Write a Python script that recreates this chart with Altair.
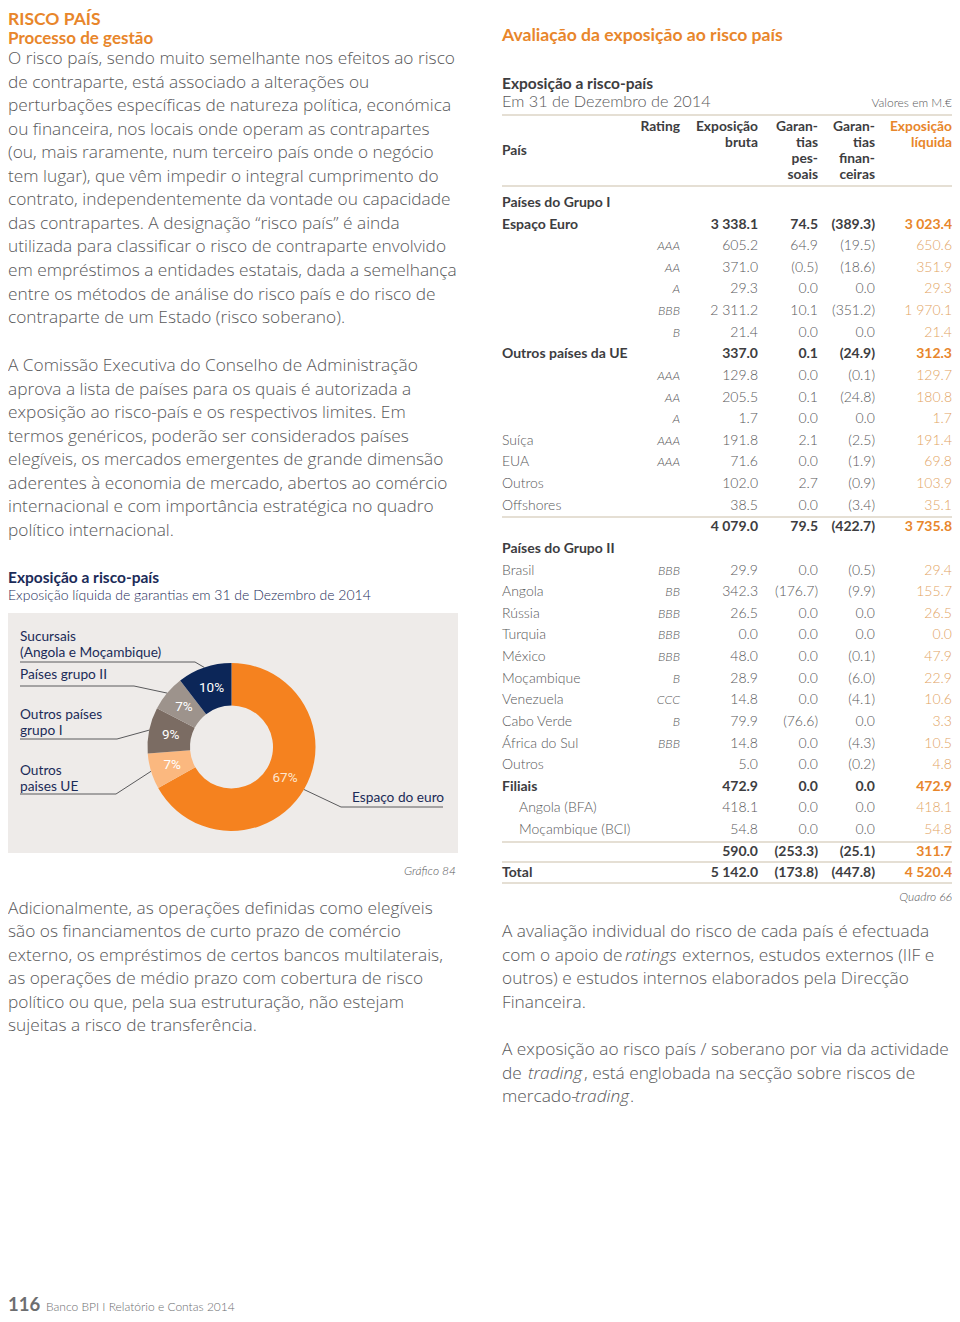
import math
import altair as alt
import pandas as pd

# ------------------------------------------------------------------ data
heading = "RISCO PAÍS"
subheading = "Processo de gestão"
para1 = [
    "O risco país, sendo muito semelhante nos efeitos ao risco",
    "de contraparte, está associado a alterações ou",
    "perturbações específicas de natureza política, económica",
    "ou financeira, nos locais onde operam as contrapartes",
    "(ou, mais raramente, num terceiro país onde o negócio",
    "tem lugar), que vêm impedir o integral cumprimento do",
    "contrato, independentemente da vontade ou capacidade",
    "das contrapartes. A designação “risco país” é ainda",
    "utilizada para classificar o risco de contraparte envolvido",
    "em empréstimos a entidades estatais, dada a semelhança",
    "entre os métodos de análise do risco país e do risco de",
    "contraparte de um Estado (risco soberano).",
]
para2 = [
    "A Comissão Executiva do Conselho de Administração",
    "aprova a lista de países para os quais é autorizada a",
    "exposição ao risco-país e os respectivos limites. Em",
    "termos genéricos, poderão ser considerados países",
    "elegíveis, os mercados emergentes de grande dimensão",
    "aderentes à economia de mercado, abertos ao comércio",
    "internacional e com importância estratégica no quadro",
    "político internacional.",
]
para3 = [
    "Adicionalmente, as operações definidas como elegíveis",
    "são os financiamentos de curto prazo de comércio",
    "externo, os empréstimos de certos bancos multilaterais,",
    "as operações de médio prazo com cobertura de risco",
    "político ou que, pela sua estruturação, não estejam",
    "sujeitas a risco de transferência.",
]
chart_title = "Exposição a risco-país"
chart_subtitle = "Exposição líquida de garantias em 31 de Dezembro de 2014"
chart_caption = "Gráfico 84"

donut_labels = [["Espaço do euro"], ["Outros", "paises UE"], ["Outros países", "grupo I"],
                ["Países grupo II"], ["Sucursais", "(Angola e Moçambique)"]]
donut_values = [3023.4, 312.3, 400.2, 311.7, 472.9]
donut_colors = ["#f5821f", "#fbb87f", "#7b6c63", "#9d938c", "#0c2658"]

right_title = "Avaliação da exposição ao risco país"
table_title = "Exposição a risco-país"
table_subtitle = "Em 31 de Dezembro de 2014"
table_units = "Valores em M.€"
table_caption = "Quadro 66"

row_labels = ["Países do Grupo I", "Espaço Euro", "", "", "", "", "", "Outros países da UE", "", "", "",
              "Suíça", "EUA", "Outros", "Offshores", "", "Países do Grupo II", "Brasil", "Angola", "Rússia",
              "Turquia", "México", "Moçambique", "Venezuela", "Cabo Verde", "África do Sul", "Outros",
              "Filiais", "Angola (BFA)", "Moçambique (BCI)", "", "Total"]
row_ratings = ["", "", "AAA", "AA", "A", "BBB", "B", "", "AAA", "AA", "A", "AAA", "AAA", "", "", "", "",
               "BBB", "BB", "BBB", "BBB", "BBB", "B", "CCC", "B", "BBB", "", "", "", "", "", ""]
gross = [None, 3338.1, 605.2, 371.0, 29.3, 2311.2, 21.4, 337.0, 129.8, 205.5, 1.7, 191.8, 71.6, 102.0, 38.5,
         4079.0, None, 29.9, 342.3, 26.5, 0.0, 48.0, 28.9, 14.8, 79.9, 14.8, 5.0, 472.9, 418.1, 54.8,
         590.0, 5142.0]
personal = [None, 74.5, 64.9, -0.5, 0.0, 10.1, 0.0, 0.1, 0.0, 0.1, 0.0, 2.1, 0.0, 2.7, 0.0,
            79.5, None, 0.0, -176.7, 0.0, 0.0, 0.0, 0.0, 0.0, -76.6, 0.0, 0.0, 0.0, 0.0, 0.0,
            -253.3, -173.8]
financial = [None, -389.3, -19.5, -18.6, 0.0, -351.2, 0.0, -24.9, -0.1, -24.8, 0.0, -2.5, -1.9, -0.9, -3.4,
             -422.7, None, -0.5, -9.9, 0.0, 0.0, -0.1, -6.0, -4.1, 0.0, -4.3, -0.2, 0.0, 0.0, 0.0,
             -25.1, -447.8]
net = [None, 3023.4, 650.6, 351.9, 29.3, 1970.1, 21.4, 312.3, 129.7, 180.8, 1.7, 191.4, 69.8, 103.9, 35.1,
       3735.8, None, 29.4, 155.7, 26.5, 0.0, 47.9, 22.9, 10.6, 3.3, 10.5, 4.8, 472.9, 418.1, 54.8,
       311.7, 4520.4]

para_r1 = [
    [("A avaliação individual do risco de cada país é efectuada", False)],
    [("com o apoio de", False), ("ratings", True), ("externos, estudos externos (IIF e", False)],
    [("outros) e estudos internos elaborados pela Direcção", False)],
    [("Financeira.", False)],
]
para_r2 = [
    [("A exposição ao risco país / soberano por via da actividade", False)],
    [("de", False), ("trading", True), (", está englobada na secção sobre riscos de", False)],
    [("mercado-", False), ("trading", True), (".", False)],
]
footer_page = "116"
footer_text = "Banco BPI  I  Relatório e Contas 2014"

# ------------------------------------------------------------------ layout / style
OFF = 8
W, H = 944, 1306
SANS = "Lato, 'Open Sans', sans-serif"
BODY = "'Open Sans', 'Noto Sans', sans-serif"
NARROW = "'Liberation Sans Narrow', 'Roboto', sans-serif"
ORANGE = "#e8862b"
ORANGE_L = "#e2a464"
GRAY = "#58585a"
DARK = "#3d3d3f"
NAVY = "#1b2b58"
LINE = "#ddd4c6"
BODY_SIZE = 17.3


def px(v):
    return v - OFF


styles = {
    "h1": dict(fontSize=17.5, fontWeight="bold", color=ORANGE, align="left"),
    "h2": dict(fontSize=17, fontWeight="bold", color=ORANGE, align="left"),
    "h2r": dict(fontSize=17.6, fontWeight="bold", color=ORANGE, align="left"),
    "body": dict(font=BODY, fontSize=BODY_SIZE, fontWeight=300, color=GRAY, align="left"),
    "body_i": dict(font=BODY, fontSize=BODY_SIZE, fontWeight=300, fontStyle="italic", color=GRAY, align="left"),
    "navy_b": dict(fontSize=15.5, fontWeight="bold", color=NAVY, align="left"),
    "navy": dict(fontSize=14, fontWeight=300, color=NAVY, align="left"),
    "legend": dict(fontSize=13.7, fontWeight="normal", color=NAVY, align="left"),
    "caption": dict(fontSize=12, fontStyle="italic", fontWeight=300, color=GRAY, align="right"),
    "t_title": dict(fontSize=15.5, fontWeight="bold", color=DARK, align="left"),
    "t_sub": dict(fontSize=16.3, fontWeight=300, color=GRAY, align="left"),
    "units": dict(fontSize=12, fontWeight=300, color=GRAY, align="right"),
    "hdr_r": dict(fontSize=13.8, fontWeight="bold", color=DARK, align="right"),
    "hdr_l": dict(fontSize=13.8, fontWeight="bold", color=DARK, align="left"),
    "hdr_o": dict(fontSize=13.8, fontWeight="bold", color=ORANGE, align="right"),
    "cell": dict(fontSize=14, fontWeight=300, color=GRAY, align="left"),
    "cell_b": dict(fontSize=14, fontWeight="bold", color=DARK, align="left"),
    "rating": dict(fontSize=12.5, fontStyle="italic", fontWeight=300, color=GRAY, align="right"),
    "num": dict(fontSize=14, fontWeight=300, color=GRAY, align="right"),
    "num_b": dict(fontSize=14, fontWeight="bold", color=DARK, align="right"),
    "net": dict(fontSize=14, fontWeight=300, color=ORANGE_L, align="right"),
    "net_b": dict(fontSize=14, fontWeight="bold", color=ORANGE, align="right"),
    "foot_n": dict(fontSize=18.5, fontWeight="bold", color="#6d6e70", align="left"),
    "foot": dict(fontSize=12, fontWeight=300, color="#6d6e70", align="left"),
}

items = []


def add(x, y, text, style):
    items.append(dict(x=px(x), y=px(y), text=text, style=style))


# left column
add(8, 20, heading, "h1")
add(8, 38.5, subheading, "h2")
LH = 23.55
for i, t in enumerate(para1):
    add(8, 59 + i * LH, t, "body")
for i, t in enumerate(para2):
    add(8, 366 + i * LH, t, "body")
for i, t in enumerate(para3):
    add(8, 908.5 + i * LH, t, "body")
add(8, 578, chart_title, "navy_b")
add(8, 596, chart_subtitle, "navy")
add(456, 871, chart_caption, "caption")
add(8, 1305, footer_page, "foot_n")
add(46, 1307, footer_text, "foot")

# right column
add(502, 36, right_title, "h2r")
add(502, 84, table_title, "t_title")
add(502, 102, table_subtitle, "t_sub")
add(952, 103, table_units, "units")

COL_R = [680, 758, 818, 875, 952]
add(COL_R[0], 127, "Rating", "hdr_r")
for j, t in enumerate(["Exposição", "bruta"]):
    add(COL_R[1], 127 + 16 * j, t, "hdr_r")
for j, t in enumerate(["Garan-", "tias", "pes-", "soais"]):
    add(COL_R[2], 127 + 16 * j, t, "hdr_r")
for j, t in enumerate(["Garan-", "tias", "finan-", "ceiras"]):
    add(COL_R[3], 127 + 16 * j, t, "hdr_r")
for j, t in enumerate(["Exposição", "líquida"]):
    add(COL_R[4], 127 + 16 * j, t, "hdr_o")
add(502, 151, "País", "hdr_l")

BOLD_ROWS = {0, 1, 7, 15, 16, 27, 30, 31}
INDENT_ROWS = {28, 29}
ROW0, RH = 203, 21.62


def fmt(v):
    if v is None:
        return ""
    s = f"{abs(v):,.1f}".replace(",", " ")
    return f"({s})" if v < 0 else s


for i in range(len(row_labels)):
    y = ROW0 + i * RH
    b = i in BOLD_ROWS
    if row_labels[i]:
        add(519 if i in INDENT_ROWS else 502, y, row_labels[i], "cell_b" if b else "cell")
    if row_ratings[i]:
        add(COL_R[0], y, row_ratings[i], "rating")
    for col, vals in zip(COL_R[1:4], [gross, personal, financial]):
        if vals[i] is not None:
            add(col, y, fmt(vals[i]), "num_b" if b else "num")
    if net[i] is not None:
        add(COL_R[4], y, fmt(net[i]), "net_b" if b else "net")
add(952, 897, table_caption, "caption")

# right paragraphs (with italic segments)
seg_x = {(1, 1): 625, (1, 2): 682, (5, 1): 528, (5, 2): 584, (6, 1): 575, (6, 2): 630}
for k, line in enumerate(para_r1 + para_r2):
    y = 932 + k * LH if k < 4 else 1050 + (k - 4) * LH
    for s, (txt, ital) in enumerate(line):
        add(seg_x.get((k, s), 502), y, txt, "body_i" if ital else "body")

# legend label lines for the donut
legend_pos = [(352, 798), (20, 771), (20, 715), (20, 675), (20, 637)]
for lines, (lx, ly) in zip(donut_labels, legend_pos):
    for j, t in enumerate(lines):
        add(lx, ly + j * 15.5, t, "legend")

df_text = pd.DataFrame(items)

# ------------------------------------------------------------------ donut geometry
CX, CY, R_OUT, R_IN = 231.5, 747, 84, 41.5
total = sum(donut_values)
donut_df = pd.DataFrame({
    "cat": [" / ".join(l) for l in donut_labels],
    "value": donut_values,
    "idx": list(range(len(donut_values))),
    "pct": [f"{round(v / total * 100):.0f}%" for v in donut_values],
    "tcolor": ["#fde6cf"] + ["#ffffff"] * (len(donut_values) - 1),
})

# leader lines: underline + diagonal to the slice's outer mid-point
underlines = [(341, 443, 807, 341), (20, 116, 794, 116), (20, 117, 739, 117), (20, 134, 686, 134),
              (20, 195, 662, 195)]
segs = []
cum = 0.0
for v, (ux1, ux2, uy, ujoin) in zip(donut_values, underlines):
    mid = 2 * math.pi * (cum + v / 2) / total
    cum += v
    ax = CX + R_OUT * math.sin(mid)
    ay = CY - R_OUT * math.cos(mid)
    segs.append(dict(x=px(ux1), x2=px(ux2), y=px(uy), y2=px(uy)))
    segs.append(dict(x=px(ujoin), x2=px(ax), y=px(uy), y2=px(ay)))
df_leader = pd.DataFrame(segs)

rules = [115, 186, 517, 842, 862, 883]
df_rules = pd.DataFrame({"x": px(502), "x2": px(952), "y": [px(v) for v in rules]})
df_rules["y2"] = df_rules["y"]

# ------------------------------------------------------------------ chart
X = lambda f: alt.X(f, type="quantitative", scale=None, axis=None)
Y = lambda f: alt.Y(f, type="quantitative", scale=None, axis=None)

panel = alt.Chart(pd.DataFrame({"x": [px(6)], "x2": [px(458)], "y": [px(613)], "y2": [px(853)]})).mark_rect(
    color="#eeebe9").encode(x=X("x"), x2="x2", y=Y("y"), y2="y2")

table_lines = alt.Chart(df_rules).mark_rule(color=LINE, strokeWidth=1.3).encode(
    x=X("x"), x2="x2", y=Y("y"), y2="y2")

leaders = alt.Chart(df_leader).mark_rule(color="#5a5a5c", strokeWidth=1).encode(
    x=X("x"), x2="x2", y=Y("y"), y2="y2")

arcs = alt.Chart(donut_df).mark_arc(innerRadius=R_IN, outerRadius=R_OUT).encode(
    theta=alt.Theta("value:Q", stack=True),
    order=alt.Order("idx:Q"),
    color=alt.Color("cat:N", scale=alt.Scale(domain=donut_df["cat"].tolist(), range=donut_colors), legend=None),
    x=alt.value(px(CX)), y=alt.value(px(CY)),
)
pct_labels = alt.Chart(donut_df).mark_text(radius=62, font=NARROW, fontSize=13.5).encode(
    theta=alt.Theta("value:Q", stack=True),
    order=alt.Order("idx:Q"),
    text="pct:N",
    color=alt.Color("tcolor:N", scale=None),
    x=alt.value(px(CX)), y=alt.value(px(CY)),
)

layers = [panel, table_lines, leaders, arcs, pct_labels]
for name, props in styles.items():
    sub = df_text[df_text["style"] == name]
    if len(sub) == 0:
        continue
    props = dict(props)
    font = props.pop("font", SANS)
    layers.append(alt.Chart(sub).mark_text(baseline="middle", font=font, **props).encode(
        x=X("x"), y=Y("y"), text="text:N"))

chart = alt.layer(*layers).properties(
    width=W, height=H, autosize=alt.AutoSizeParams(type="none"), padding=0,
    background="#ffffff",
).configure_view(stroke=None).resolve_scale(color="independent")

chart.save("out.html", embed_options={"renderer": "svg", "actions": False})
